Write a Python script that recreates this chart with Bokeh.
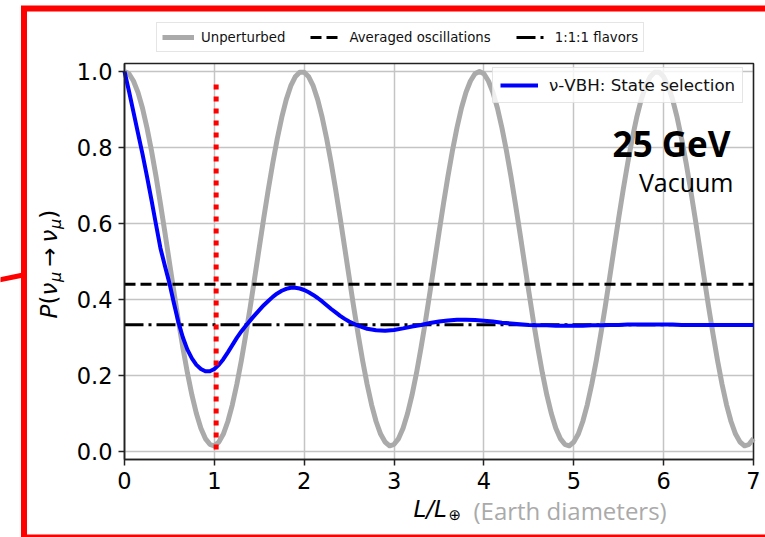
import numpy as np
from bokeh.plotting import figure
from bokeh.models import (Range1d, FixedTicker, Legend, LegendItem, Label, Grid,
                          LinearAxis, BoxAnnotation)
from bokeh.embed import file_html
from bokeh.resources import INLINE

# ---------------- data ----------------
# distance in Earth diameters, step 0.05
x_unpert = np.linspace(0.0, 7.0, 141)
p_unpert = [1.000, 0.994, 0.975, 0.945, 0.904, 0.852, 0.792, 0.725, 0.652, 0.576,
            0.498, 0.420, 0.344, 0.273, 0.207, 0.149, 0.100, 0.061, 0.034, 0.019,
            0.015, 0.025, 0.046, 0.079, 0.123, 0.177, 0.239, 0.308, 0.381, 0.459,
            0.537, 0.615, 0.689, 0.759, 0.823, 0.879, 0.926, 0.962, 0.986, 0.998,
            0.998, 0.986, 0.962, 0.926, 0.879, 0.823, 0.759, 0.689, 0.615, 0.537,
            0.459, 0.381, 0.308, 0.239, 0.177, 0.123, 0.079, 0.046, 0.025, 0.015,
            0.019, 0.034, 0.061, 0.100, 0.149, 0.207, 0.273, 0.344, 0.420, 0.498,
            0.576, 0.652, 0.725, 0.792, 0.852, 0.904, 0.945, 0.975, 0.994,
            1.000, 0.994, 0.975, 0.945, 0.904, 0.852, 0.792, 0.725, 0.652, 0.576,
            0.498, 0.420, 0.344, 0.273, 0.207, 0.149, 0.100, 0.061, 0.034, 0.019,
            0.015, 0.025, 0.046, 0.079, 0.123, 0.177, 0.239, 0.308, 0.381, 0.459,
            0.537, 0.615, 0.689, 0.759, 0.823, 0.879, 0.926, 0.962, 0.986, 0.998,
            0.998, 0.986, 0.962, 0.926, 0.879, 0.823, 0.759, 0.689, 0.615, 0.537,
            0.459, 0.381, 0.308, 0.239, 0.177, 0.123, 0.079, 0.046, 0.025, 0.015,
            0.019, 0.034]

x_vbh = np.concatenate([np.linspace(0.0, 2.5, 51), np.linspace(2.6, 7.0, 45)])
p_vbh = [1.000, 0.948, 0.893, 0.838, 0.783, 0.724, 0.662, 0.598, 0.535, 0.488,
         0.443, 0.390, 0.340, 0.300, 0.268, 0.245, 0.228, 0.217, 0.211, 0.211,
         0.217, 0.228, 0.243, 0.261, 0.280, 0.299, 0.316, 0.331, 0.345, 0.359,
         0.372, 0.385, 0.396, 0.407, 0.416, 0.423, 0.428, 0.431, 0.431, 0.429,
         0.425, 0.419, 0.412, 0.404, 0.395, 0.385, 0.375, 0.366, 0.357, 0.349,
         0.342,
         0.331, 0.323, 0.319, 0.318, 0.320, 0.324, 0.329, 0.333, 0.338, 0.342,
         0.345, 0.347, 0.347, 0.346, 0.344, 0.342, 0.339, 0.337, 0.335, 0.333,
         0.332, 0.332, 0.331, 0.331, 0.331, 0.331, 0.332, 0.332, 0.333, 0.333,
         0.334, 0.334, 0.334, 0.334, 0.334, 0.334, 0.333, 0.333, 0.333, 0.333,
         0.333, 0.333, 0.333, 0.333, 0.333]

x_span = [0.0, 7.0]
p_averaged = [0.44, 0.44]
p_flavors = [1 / 3, 1 / 3]

# one Earth diameter marker
marker_x = 1.02
marker_y = [0.966, 0.005]

x_ticks = [0, 1, 2, 3, 4, 5, 6, 7]
x_tick_labels = ["0", "1", "2", "3", "4", "5", "6", "7"]
y_ticks = [0.0, 0.2, 0.4, 0.6, 0.8, 1.0]
y_tick_labels = ["0.0", "0.2", "0.4", "0.6", "0.8", "1.0"]

# ---------------- geometry ----------------
W, H = 765, 537
AX_L, AX_R, AX_T, AX_B = 124, 753, 63, 459          # axes box in pixels
X_LIM = (0.0, 7.0)
Y_LIM = (-0.021, 1.021)
sx = (AX_R - AX_L) / (X_LIM[1] - X_LIM[0])
sy = (AX_B - AX_T) / (Y_LIM[1] - Y_LIM[0])
# the drawing area covers the whole canvas; the axes box sits inside it
x_range = Range1d(X_LIM[0] - AX_L / sx, X_LIM[1] + (W - AX_R) / sx)
y_range = Range1d(Y_LIM[0] - (H - AX_B) / sy, Y_LIM[1] + AX_T / sy)


def px_x(px):
    return X_LIM[0] + (px - AX_L) / sx


def px_y(py):
    return Y_LIM[1] - (py - AX_T) / sy


p = figure(width=W, height=H, min_border=0, x_range=x_range, y_range=y_range,
           x_axis_location=None, y_axis_location=None,
           output_backend="svg", toolbar_location=None)
p.grid.visible = False
p.outline_line_color = None
p.background_fill_color = "white"
p.border_fill_color = "white"

# grid lines, limited to the axes box
GRID_COLOR, GRID_W = "#c4c4c4", 1.5
if "cross_bounds" in Grid.properties():
    p.add_layout(Grid(dimension=0, ticker=FixedTicker(ticks=x_ticks), cross_bounds=Y_LIM,
                      grid_line_color=GRID_COLOR, grid_line_width=GRID_W))
    p.add_layout(Grid(dimension=1, ticker=FixedTicker(ticks=y_ticks), cross_bounds=X_LIM,
                      grid_line_color=GRID_COLOR, grid_line_width=GRID_W))
else:
    p.segment(x0=x_ticks, y0=[Y_LIM[0]] * len(x_ticks), x1=x_ticks, y1=[Y_LIM[1]] * len(x_ticks),
              line_color=GRID_COLOR, line_width=GRID_W)
    p.segment(x0=[X_LIM[0]] * len(y_ticks), y0=y_ticks, x1=[X_LIM[1]] * len(y_ticks), y1=y_ticks,
              line_color=GRID_COLOR, line_width=GRID_W)

# axes pinned to the box edges
def style_axis(ax, ticks, labels):
    ax.ticker = FixedTicker(ticks=ticks)
    ax.major_label_overrides = {t: s for t, s in zip(ticks, labels)}
    ax.axis_line_color = "#222222"
    ax.axis_line_width = 1.5
    ax.major_tick_line_color = "#222222"
    ax.major_tick_line_width = 1.5
    ax.major_tick_out = 6
    ax.major_tick_in = 0
    ax.minor_tick_line_color = None
    ax.major_label_text_font = "DejaVu Sans"
    ax.major_label_text_font_size = "22.5px"
    ax.major_label_text_color = "black"
    ax.major_label_standoff = 6

xaxis = LinearAxis(fixed_location=Y_LIM[0], bounds=X_LIM)
style_axis(xaxis, x_ticks, x_tick_labels)
p.add_layout(xaxis, "below")
yaxis = LinearAxis(fixed_location=X_LIM[0], bounds=Y_LIM)
style_axis(yaxis, y_ticks, y_tick_labels)
p.add_layout(yaxis, "left")

p.add_layout(BoxAnnotation(left=X_LIM[0], right=X_LIM[1], bottom=Y_LIM[0], top=Y_LIM[1],
                           fill_color=None, fill_alpha=0,
                           line_color="#222222", line_alpha=1.0, line_width=1.5,
                           level="underlay"))

# ---------------- curves ----------------
r_unpert = p.line(x_unpert, p_unpert, line_color="#aaaaaa", line_width=5, line_join="round")
r_avg = p.line(x_span, p_averaged, line_color="black", line_width=3, line_dash="11 5")
r_flav = p.line(x_span, p_flavors, line_color="black", line_width=3, line_dash="19 5 3 5")
r_vbh = p.line(x_vbh, p_vbh, line_color="#0000ff", line_width=4, line_join="round")
p.segment(x0=[marker_x], y0=[marker_y[0]], x1=[marker_x], y1=[marker_y[1]],
          line_color="#ff0000", line_width=5, line_dash="5 7", line_cap="butt")

# ---------------- panel frame and its connector ----------------
# open path: top edge, left edge, bottom edge (runs off the right side)
frame_px_x = [800, 23.5, 23.5, 800]
frame_px_y = [8, 8, 537, 537]
p.line([px_x(v) for v in frame_px_x], [px_y(v) for v in frame_px_y],
       line_color="#ff0000", line_width=6, line_join="miter")
conn_px_x = [-10, 24]
conn_px_y = [281.3, 274.2]
p.line([px_x(v) for v in conn_px_x], [px_y(v) for v in conn_px_y],
       line_color="#ff0000", line_width=5)

# ---------------- legends ----------------
top_legend = Legend(
    items=[LegendItem(label="Unperturbed", renderers=[r_unpert]),
           LegendItem(label="Averaged oscillations", renderers=[r_avg]),
           LegendItem(label="1:1:1 flavors", renderers=[r_flav])],
    orientation="horizontal", location=(156, H - 52), margin=0, padding=5, spacing=25,
    glyph_width=32, glyph_height=18, label_height=18, label_standoff=7,
    label_text_font="DejaVu Sans", label_text_font_size="13.3px",
    label_text_color="#111111",
    border_line_color="#cccccc", border_line_width=1,
    background_fill_color="white", background_fill_alpha=0.8)
p.add_layout(top_legend)

vbh_legend = Legend(
    items=[LegendItem(label="\u03bd-VBH: State selection", renderers=[r_vbh])],
    location=(492, H - 103), margin=0, padding=7,
    glyph_width=38, glyph_height=16, label_height=16, label_standoff=11,
    label_text_font="DejaVu Sans", label_text_font_size="16.7px",
    label_text_color="#111111",
    border_line_color="#cccccc", border_line_width=1,
    background_fill_color="white", background_fill_alpha=0.8)
p.add_layout(vbh_legend)

# ---------------- texts ----------------
def canvas_text(x, y, text, font="DejaVu Sans", size=23, style="normal",
                color="black", align="left", angle=0.0):
    p.add_layout(Label(x=x, y=y, x_units="canvas", y_units="canvas", text=text,
                       text_font=font, text_font_size=f"{size}px",
                       text_font_style=style, text_color=color,
                       text_align=align, text_baseline="alphabetic", angle=angle))

canvas_text(730, 143, "25 GeV", font="Open Sans", size=35, style="bold", align="right")
canvas_text(733, 181, "Vacuum", font="Open Sans", size=25, align="right")

# x-axis label
canvas_text(413, 508, "L/L", size=23, style="italic")
canvas_text(448, 514, "\u2295", size=15)
canvas_text(473, 510, "(Earth diameters)", font="Open Sans", size=24, color="#aaaaaa")

# y-axis label, written bottom to top
ang = np.pi / 2
base, sub = 48, 55
y = 318.0
for txt, size, style, adv, is_sub in [("P", 23, "italic", 13.9, False),
                                      ("(", 23, "normal", 9.0, False),
                                      ("\u03bd", 23, "italic", 13.6, False),
                                      ("\u03bc", 16, "italic", 10.2 + 5.0, True),
                                      ("\u2192", 23, "normal", 19.3 + 5.0, False),
                                      ("\u03bd", 23, "italic", 13.6, False),
                                      ("\u03bc", 16, "italic", 10.2, True),
                                      (")", 23, "normal", 9.0, False)]:
    canvas_text(sub if is_sub else base, y, txt, size=size, style=style, angle=ang)
    y -= adv

open("out.html", "w").write(file_html(p, INLINE))
